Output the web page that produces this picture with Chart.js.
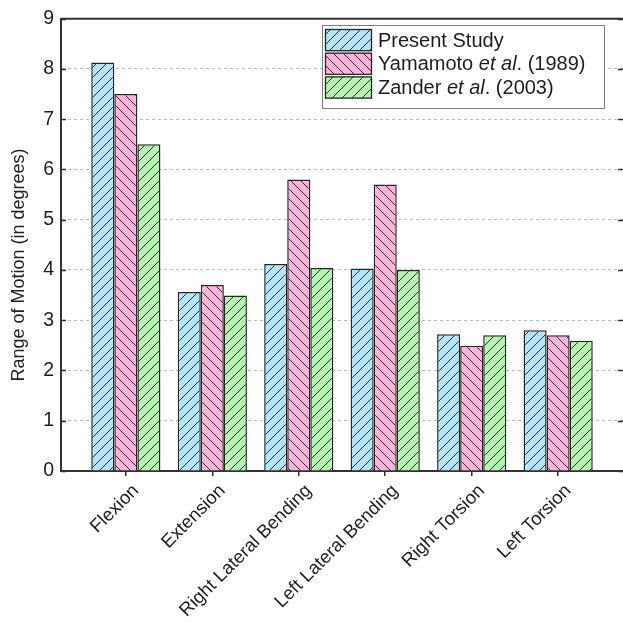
<!DOCTYPE html>
<html><head><meta charset="utf-8">
<script src="https://cdn.jsdelivr.net/npm/chart.js@4"></script>
<style>html,body{margin:0;padding:0;background:#fff}canvas{display:block}</style>
</head><body>
<canvas id="c" width="623" height="623"></canvas>
<script>
const categories = ['Flexion','Extension','Right Lateral Bending','Left Lateral Bending','Right Torsion','Left Torsion'];
const seriesNames = ['Present Study','Yamamoto et al. (1989)','Zander et al. (2003)'];
const presentStudy = [8.13,3.56,4.12,4.03,2.72,2.80];
const yamamoto1989 = [7.50,3.70,5.80,5.70,2.49,2.70];
const zander2003  = [6.50,3.49,4.04,4.00,2.70,2.59];
const yTickValues = [0,1,2,3,4,5,6,7,8,9];
const yTitle = 'Range of Motion (in degrees)';

const FONT = "'Liberation Sans', Arial, Helvetica, sans-serif";
const canvas = document.getElementById('c');
const mainCtx = canvas.getContext('2d');

function hatch(bg, dir){
  const s = 10;
  const t = document.createElement('canvas'); t.width = s; t.height = s;
  const g = t.getContext('2d');
  g.fillStyle = bg; g.fillRect(0,0,s,s);
  g.strokeStyle = '#2e2e2e'; g.lineWidth = 1;
  g.beginPath();
  if (dir > 0) {
    g.moveTo(0,s); g.lineTo(s,0);
    g.moveTo(-2,2); g.lineTo(2,-2);
    g.moveTo(s-2,s+2); g.lineTo(s+2,s-2);
  } else {
    g.moveTo(0,0); g.lineTo(s,s);
    g.moveTo(-2,s-2); g.lineTo(2,s+2);
    g.moveTo(s-2,-2); g.lineTo(s+2,2);
  }
  g.stroke();
  return mainCtx.createPattern(t,'repeat');
}

const fills = ['#b4e4f8','#fcb4da','#b4f6b0'];
const dirs = [1,-1,1];
const seriesValues = [presentStudy, yamamoto1989, zander2003];
const patterns = fills.map((f,k)=>hatch(f,dirs[k]));

const datasets = seriesValues.map((vals,k)=>({
  label: seriesNames[k],
  data: vals.map((v,i)=>({x:i+1, y:v})),
  backgroundColor: patterns[k],
  borderColor: '#262626',
  borderWidth: 1.5,
  borderSkipped: 'bottom',
  categoryPercentage: 0.8,
  barPercentage: 1.0
}));

const decor = {
  id: 'decor',
  afterDraw(chart){
    const ctx = chart.ctx;
    const a = chart.chartArea;
    const y = chart.scales.y;
    ctx.save();
    // frame top
    ctx.strokeStyle = '#333'; ctx.lineWidth = 2;
    ctx.beginPath();
    ctx.moveTo(a.left, a.top); ctx.lineTo(a.right, a.top);
    ctx.stroke();
    // inward ticks
    ctx.lineWidth = 1.5;
    ctx.beginPath();
    yTickValues.forEach(v=>{
      const py = Math.round(y.getPixelForValue(v))+0.5;
      ctx.moveTo(a.left, py); ctx.lineTo(a.left+5, py);
      ctx.moveTo(a.right-5, py); ctx.lineTo(a.right, py);
    });
    ctx.stroke();
    // y title
    ctx.fillStyle = '#222';
    ctx.font = '18px ' + FONT;
    ctx.textAlign = 'center'; ctx.textBaseline = 'middle';
    ctx.translate(19, 265); ctx.rotate(-Math.PI/2);
    ctx.fillText(yTitle, 0, 0);
    ctx.restore();

    // legend
    ctx.save();
    const lx = 322, ly = 25, lw = 282, lh = 83;
    ctx.fillStyle = '#fff'; ctx.fillRect(lx, ly, lw, lh);
    ctx.strokeStyle = '#808080'; ctx.lineWidth = 1;
    ctx.strokeRect(lx+0.5, ly+0.5, lw, lh);
    const rowH = 23.7;
    chart.data.datasets.forEach((ds,k)=>{
      const sy = 29 + k*rowH;
      ctx.fillStyle = ds.backgroundColor;
      ctx.fillRect(325, sy, 47, rowH-1.5);
      ctx.strokeStyle = '#262626'; ctx.lineWidth = 1.3;
      ctx.strokeRect(325.5, sy+0.5, 46, rowH-2.5);
      const cy = sy + (rowH-1.5)/2 + 1;
      let x = 378;
      ctx.fillStyle = '#1e1e1e'; ctx.textBaseline = 'middle'; ctx.textAlign = 'left';
      ds.label.split(/(et al)/).forEach(part=>{
        if (!part) return;
        ctx.font = (part === 'et al' ? 'italic ' : '') + '20px ' + FONT;
        ctx.fillText(part, x, cy);
        x += ctx.measureText(part).width;
      });
    });
    ctx.restore();
  }
};

new Chart(canvas, {
  type: 'bar',
  data: { datasets },
  options: {
    responsive: false,
    devicePixelRatio: 1,
    animation: false,
    layout: { padding: { top: 16, right: 0, left: 0, bottom: 0 } },
    plugins: { legend: { display: false }, tooltip: { enabled: false } },
    scales: {
      x: {
        type: 'linear',
        min: 0.25, max: 6.75,
        offset: false,
        afterBuildTicks: s => { s.ticks = categories.map((_,i)=>({value:i+1})); },
        afterFit: s => { s.height = 152; },
        ticks: {
          autoSkip: false,
          minRotation: 45, maxRotation: 45,
          padding: 4,
          labelOffset: 10,
          color: '#1e1e1e',
          font: { family: FONT, size: 18.5 },
          callback: (v, i) => categories[i]
        },
        grid: { display: true, offset: false, drawOnChartArea: false, drawTicks: true, tickLength: 5, color: '#333', lineWidth: 1.5 },
        border: { display: true, color: '#333', width: 2 }
      },
      y: {
        min: 0, max: 9,
        afterBuildTicks: s => { s.ticks = yTickValues.map(v=>({value:v})); },
        afterFit: s => { s.width = 61; },
        ticks: { padding: 7, color: '#1e1e1e', font: { family: FONT, size: 19.5 } },
        grid: {
          drawTicks: false,
          color: c => (c.tick && c.tick.value > 0 && c.tick.value < 9) ? '#bbbbbb' : 'rgba(0,0,0,0)',
          lineWidth: 1
        },
        border: { display: true, color: '#333', width: 2, dash: [3,3] }
      }
    }
  },
  plugins: [decor]
});
</script>
</body></html>
